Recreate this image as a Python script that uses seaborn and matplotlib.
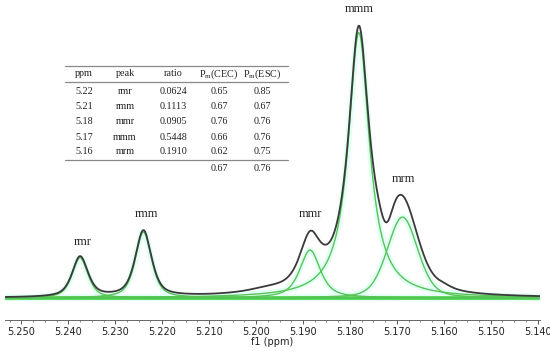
import numpy as np
import matplotlib
matplotlib.use("Agg")
import matplotlib.pyplot as plt
import seaborn as sns
import pandas as pd
from matplotlib.lines import Line2D
from matplotlib.ticker import MultipleLocator

# ---- data ----
peak_names = ["rmr", "rmm", "mmr", "mmm", "mrm"]
peak_centers = [5.2375, 5.2240, 5.1885, 5.1781, 5.1688]   # ppm
peak_heights = [15.0, 24.6, 17.9, 99.0, 30.2]              # relative intensity
peak_fwhm = [0.0040, 0.0041, 0.0052, 0.0054, 0.0077]       # ppm
peak_lorentz_frac = [0.6, 0.6, 0.7, 1.0, 0.3]              # line-shape mix
# features of the measured spectrum not covered by the fit
extra_centers = [5.1975, 5.1600, 5.1722]
extra_heights = [1.5, 1.4, -6.8]
extra_fwhm = [0.012, 0.005, 0.0026]
extra_lorentz_frac = [1.0, 1.0, 0.0]

table_cols = ["ppm", "peak", "ratio", "P$_{\\mathrm{m}}$(CEC)", "P$_{\\mathrm{m}}$(ESC)"]
table_ppm = ["5.22", "5.21", "5.18", "5.17", "5.16"]
table_peak = ["rmr", "rmm", "mmr", "mmm", "mrm"]
table_ratio = ["0.0624", "0.1113", "0.0905", "0.5448", "0.1910"]
table_cec = ["0.65", "0.67", "0.76", "0.66", "0.62"]
table_esc = ["0.85", "0.67", "0.76", "0.76", "0.75"]
table_mean = ["0.67", "0.76"]

label_pos = {"rmr": (5.2369, 19.8), "rmm": (5.2234, 30.2), "mmr": (5.1885, 30.2),
             "mmm": (5.1781, 106.7), "mrm": (5.1686, 43.3)}

xticks = [5.250, 5.240, 5.230, 5.220, 5.210, 5.200, 5.190, 5.180, 5.170, 5.160, 5.150, 5.140]

# ---- build curves ----
ppm = np.linspace(5.2535, 5.1390, 3000)

def pvoigt(x, c, h, w, eta=1.0):
    d = (x - c) / (w / 2.0)
    return h * (eta / (1.0 + d ** 2) + (1 - eta) * np.exp(-np.log(2) * d ** 2))

comps = [pvoigt(ppm, c, h, w, e) for c, h, w, e in
         zip(peak_centers, peak_heights, peak_fwhm, peak_lorentz_frac)]
total = np.sum(comps, axis=0)
for c, h, w, e in zip(extra_centers, extra_heights, extra_fwhm, extra_lorentz_frac):
    total = total + pvoigt(ppm, c, h, w, e)

rows = []
for name, comp in zip(peak_names, comps):
    rows.append(pd.DataFrame({"ppm": ppm, "I": comp, "curve": name}))
df_comp = pd.concat(rows, ignore_index=True)
df_total = pd.DataFrame({"ppm": ppm, "I": total})
df_base = pd.DataFrame({"ppm": [ppm[0], ppm[-1]], "I": [0.0, 0.0]})

# ---- figure ----
sns.set_theme(style="white")
plt.rcParams["font.family"] = ["DejaVu Sans"]
plt.rcParams["mathtext.fontset"] = "custom"
plt.rcParams["mathtext.rm"] = "Liberation Serif"

W, H = 550, 351
fig = plt.figure(figsize=(5.5, 3.51), dpi=100)
ax = fig.add_axes([5 / W, 31 / H, 535 / W, 320 / H])

# faint halo
for comp in comps:
    ax.plot(ppm, comp, color="#e4fff6", lw=4.5, zorder=1, solid_capstyle="round")
sns.lineplot(data=df_base, x="ppm", y="I", color="#3fd23f", lw=2.6, ax=ax, zorder=2)
sns.lineplot(data=df_comp, x="ppm", y="I", units="curve", estimator=None,
             color="#55c455", lw=1.0, ax=ax, zorder=3)
sns.lineplot(data=df_total, x="ppm", y="I", color="#3a3a3a", lw=1.3, ax=ax, zorder=4)

ax.set_xlim(5.2535, 5.1395)
ax.set_ylim(-8.2, 111.2)
ax.set_yticks([])
ax.set_ylabel("")
ax.set_xticks(xticks)
ax.set_xticklabels([f"{t:.3f}" for t in xticks], fontsize=7, color="#222222")
ax.xaxis.set_minor_locator(MultipleLocator(0.0025))
ax.tick_params(axis="x", which="major", length=3, width=0.7, color="#555555", pad=2, bottom=True)
ax.tick_params(axis="x", which="minor", length=1.5, width=0.6, color="#777777", bottom=True)
ax.set_xlabel("f1 (ppm)", fontsize=7, color="#222222", labelpad=0)
for s in ["top", "left", "right"]:
    ax.spines[s].set_visible(False)
ax.spines["bottom"].set_color("#666666")
ax.spines["bottom"].set_linewidth(0.7)

for name, (x, y) in label_pos.items():
    ax.text(x, y, name, ha="center", va="baseline", fontsize=9,
            family="Liberation Serif", color="#222222")

# ---- table ----
def fx(px):
    return px / W

def fy(py):
    return 1 - py / H

tfont = dict(family="Liberation Serif", fontsize=7.3, color="#222222", va="center")
col_x = [75, 125, 173, 219, 262]
col_ha = ["left", "center", "center", "center", "center"]
for x, ha, t in zip(col_x, col_ha, table_cols):
    fig.text(fx(x), fy(74), t, ha=ha, **tfont)
row_y = [92, 107, 122, 137, 152]
for i, y in enumerate(row_y):
    vals = [table_ppm[i], table_peak[i], table_ratio[i], table_cec[i], table_esc[i]]
    for x, ha, t in zip(col_x, col_ha, vals):
        fig.text(fx(x), fy(y), t, ha=ha, **tfont)
fig.text(fx(219), fy(169), table_mean[0], ha="center", **tfont)
fig.text(fx(262), fy(169), table_mean[1], ha="center", **tfont)

for y in [65.5, 82, 160]:
    fig.add_artist(Line2D([fx(65), fx(288)], [fy(y), fy(y)], color="#888888",
                          lw=0.9, transform=fig.transFigure))

fig.savefig("out.png", dpi=100)
